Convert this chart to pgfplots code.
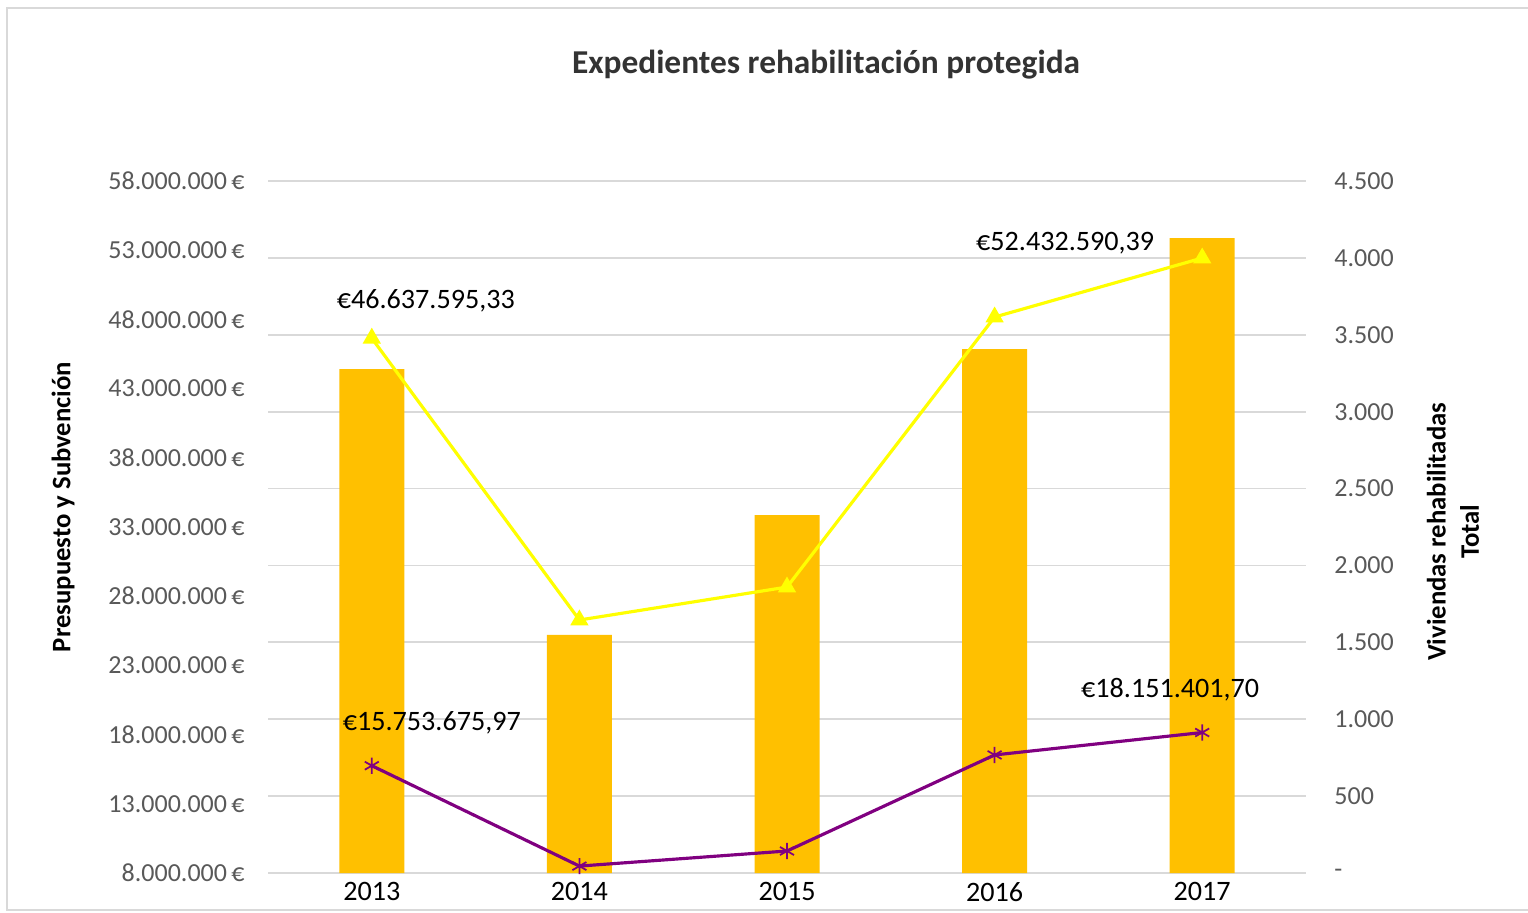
\documentclass[border=0pt]{standalone}
\usepackage{pgfplots}
\pgfplotsset{compat=1.18}
\usepackage{fontspec}
\setmainfont{Carlito}

\definecolor{barcol}{HTML}{FFC000}
\definecolor{presu}{HTML}{FFFF00}
\definecolor{subv}{HTML}{800080}
\definecolor{gridc}{HTML}{D9D9D9}
\definecolor{tickc}{HTML}{595959}

\begin{document}
\begin{tikzpicture}
\path[use as bounding box] (0,0) rectangle (15.28,9.12);
\draw[gridc, line width=0.5pt] (0.07,0.02) rectangle (15.4,9.04);

% title
\node[font=\fontsize{9.5}{11}\selectfont\bfseries, text=black!80] at (8.26,8.47) {Expedientes rehabilitación protegida};

\pgfplotsset{
  common/.style={
    width=10.38cm, height=6.92cm, scale only axis,
    at={(2.68cm,0.39cm)}, anchor=south west,
    xmin=-0.5, xmax=4.5,
    axis line style={draw=none},
    major tick length=0pt,
    tick label style={font=\fontsize{7.4}{9}\selectfont, text=tickc},
    /pgf/number format/assume math mode=true,
  },
}

% bars: Viviendas rehabilitadas (right axis)
\begin{axis}[common,
  axis y line*=right,
  axis x line=none,
  ymin=0, ymax=4500,
  ytick={0,500,1000,1500,2000,2500,3000,3500,4000,4500},
  yticklabels={-,500,1.000,1.500,2.000,2.500,3.000,3.500,4.000,4.500},
  yticklabel style={anchor=west, xshift=1.6mm},
  ymajorgrids, grid style={gridc, line width=0.5pt},
  ylabel={Viviendas rehabilitadas\\Total},
  ylabel style={font=\fontsize{7.6}{9.5}\selectfont\bfseries, align=center,
    at={(axis description cs:1.1416,0.493)}, anchor=center, rotate=0},
  ybar, bar width=0.65cm,
]
\addplot[fill=barcol, draw=none] coordinates {
  (0,3277) (1,1548) (2,2328) (3,3407) (4,4129)
};
\end{axis}

% lines: Presupuesto y Subvencion (left axis)
\begin{axis}[common,
  axis y line*=left,
  ymin=8000000, ymax=58000000,
  scaled y ticks=false,
  ytick={8000000,13000000,18000000,23000000,28000000,33000000,38000000,43000000,48000000,53000000,58000000},
  yticklabels={8.000.000\,€,13.000.000\,€,18.000.000\,€,23.000.000\,€,28.000.000\,€,33.000.000\,€,38.000.000\,€,43.000.000\,€,48.000.000\,€,53.000.000\,€,58.000.000\,€},
  yticklabel style={anchor=east, xshift=-1.1mm},
  xtick={0,1,2,3,4},
  xticklabels={2013,2014,2015,2016,2017},
  xticklabel style={font=\fontsize{8}{9}\selectfont, text=black, yshift=0.3mm},
  ylabel={Presupuesto y Subvención},
  ylabel style={font=\fontsize{7.6}{9.5}\selectfont\bfseries,
    at={(axis description cs:-0.1975,0.529)}, anchor=center},
  clip=false,
]
\addplot[presu, line width=0.9pt, mark=triangle*, mark size=2.1pt] coordinates {
  (0,46637595.33) (1,26280000) (2,28660000) (3,48170000) (4,52432590.39)
};
\addplot[subv, line width=0.9pt, mark=asterisk, mark size=2.3pt, mark options={line width=0.5pt}] coordinates {
  (0,15753675.97) (1,8500000) (2,9590000) (3,16530000) (4,18151401.70)
};
\begin{scope}[every node/.style={font=\fontsize{8}{9}\selectfont, text=black}]
\node at (axis cs:0,46637595.33) [xshift=5.4mm, yshift=3.7mm] {€46.637.595,33};
\node at (axis cs:4,52432590.39) [xshift=-13.7mm, yshift=1.5mm] {€52.432.590,39};
\node at (axis cs:0,15753675.97) [xshift=6mm, yshift=4.3mm] {€15.753.675,97};
\node at (axis cs:4,18151401.70) [xshift=-3.2mm, yshift=4.3mm] {€18.151.401,70};
\end{scope}
\end{axis}
\end{tikzpicture}
\end{document}
